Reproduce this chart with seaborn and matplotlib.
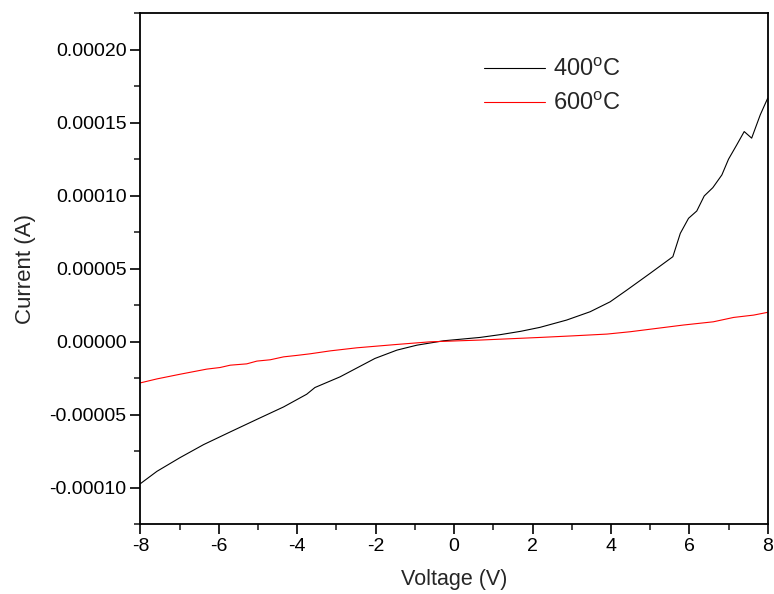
import matplotlib
matplotlib.use("Agg")
import numpy as np
import pandas as pd
import matplotlib.pyplot as plt
from matplotlib.ticker import MultipleLocator, FormatStrFormatter
import seaborn as sns

# 400 C curve
v_400 = [-8.0, -7.58, -6.99, -6.39, -5.71, -4.99, -4.35, -3.76, -3.55, -2.91,
         -2.02, -1.46, -0.95, -0.27, 0.66, 1.2, 1.7, 2.19, 2.87, 3.47, 3.98,
         4.41, 5.0, 5.58, 5.77, 5.98, 6.19, 6.38, 6.60, 6.83, 7.0, 7.21, 7.40,
         7.59, 7.81, 8.0]
i_400 = [-9.71e-5, -8.87e-5, -7.93e-5, -7.04e-5, -6.17e-5, -5.26e-5, -4.46e-5,
         -3.59e-5, -3.13e-5, -2.40e-5, -1.14e-5, -0.57e-5, -0.23e-5, 0.07e-5,
         0.30e-5, 0.50e-5, 0.72e-5, 0.99e-5, 1.49e-5, 2.06e-5, 2.74e-5,
         3.55e-5, 4.69e-5, 5.83e-5, 7.43e-5, 8.46e-5, 8.96e-5, 9.99e-5,
         10.56e-5, 11.43e-5, 12.51e-5, 13.49e-5, 14.40e-5, 13.95e-5,
         15.55e-5, 16.69e-5]

# 600 C curve
v_600 = [-8.0, -7.58, -6.99, -6.31, -5.97, -5.71, -5.29, -5.03, -4.69, -4.35,
         -4.01, -3.67, -3.16, -2.48, -1.46, -0.61, 0.66, 2.19, 3.04, 3.90,
         4.49, 5.17, 5.85, 6.61, 7.13, 7.64, 8.0]
i_600 = [-2.81e-5, -2.54e-5, -2.22e-5, -1.87e-5, -1.76e-5, -1.60e-5, -1.51e-5,
         -1.32e-5, -1.23e-5, -1.03e-5, -0.93e-5, -0.82e-5, -0.62e-5, -0.41e-5,
         -0.18e-5, 0.0, 0.12e-5, 0.30e-5, 0.41e-5, 0.53e-5, 0.69e-5, 0.92e-5,
         1.15e-5, 1.37e-5, 1.67e-5, 1.83e-5, 2.02e-5]

labels = ["400$^{\\rm o}$C", "600$^{\\rm o}$C"]

sns.set_style("ticks")
plt.rcParams['font.family'] = ['Liberation Sans', 'DejaVu Sans']
plt.rcParams['mathtext.fontset'] = 'custom'
plt.rcParams['mathtext.rm'] = 'Liberation Sans'

fig = plt.figure(figsize=(7.74, 5.94), dpi=100)
ax = fig.add_axes([0.1815, 0.1173, 0.8104, 0.8603])

sns.lineplot(x=v_400, y=i_400, ax=ax, color="black", lw=0.8, label=labels[0],
             sort=False, estimator=None)
sns.lineplot(x=v_600, y=i_600, ax=ax, color="red", lw=0.8, label=labels[1],
             sort=False, estimator=None)

ax.set_xlim(-8, 8)
ax.set_ylim(-0.000125, 0.000225)
ax.xaxis.set_major_locator(MultipleLocator(2))
ax.xaxis.set_minor_locator(MultipleLocator(1))
ax.yaxis.set_major_locator(MultipleLocator(0.00005))
ax.yaxis.set_minor_locator(MultipleLocator(0.000025))
ax.yaxis.set_major_formatter(FormatStrFormatter('%.5f'))
ax.xaxis.set_major_formatter(FormatStrFormatter('%d'))

for s in ax.spines.values():
    s.set_linewidth(1.3)
    s.set_color("black")
ax.tick_params(which='major', direction='out', length=7, width=1.2,
               labelsize=14, colors='black', pad=3)
ax.tick_params(which='minor', direction='out', length=4, width=1.2)
ax.tick_params(top=False, right=False, which='both')

ax.set_xlabel("Voltage (V)", fontsize=15.5, labelpad=10)
ax.set_ylabel("Current (A)", fontsize=16, labelpad=10)

ax.legend(loc='upper left', bbox_to_anchor=(0.532, 0.93), frameon=False,
          fontsize=17, handlelength=2.6, handletextpad=0.35, labelspacing=0.45,
          borderaxespad=0)

fig.savefig("out.png", dpi=100)
plt.close(fig)
